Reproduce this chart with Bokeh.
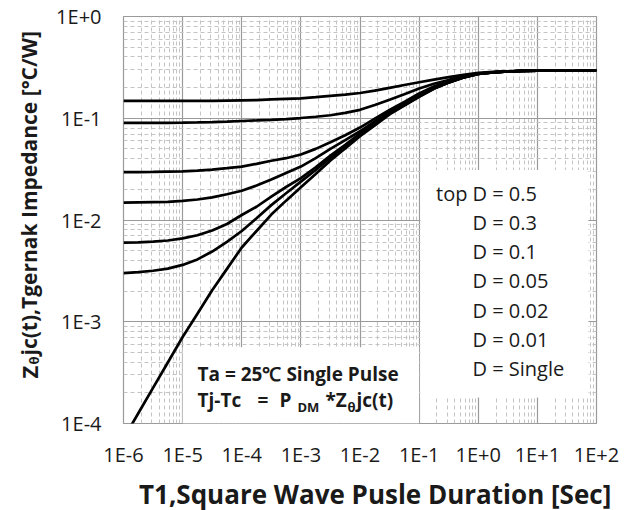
import math
from bokeh.plotting import figure
from bokeh.layouts import row, column
from bokeh.models import Range1d, FixedTicker, CustomJSTickFormatter, BoxAnnotation, Label
from bokeh.embed import file_html
from bokeh.resources import INLINE

# ---------------- data ----------------
t_sec = [1e-6, 1.78e-6, 3.16e-6, 5.62e-6,
         1e-5, 1.78e-5, 3.16e-5, 5.62e-5,
         1e-4, 1.78e-4, 3.16e-4, 5.62e-4,
         1e-3, 1.78e-3, 3.16e-3, 5.62e-3,
         1e-2, 1.78e-2, 3.16e-2, 5.62e-2,
         0.1, 0.178, 0.316, 0.562,
         1.0, 1.78, 3.16, 5.62,
         10.0, 17.8, 31.6, 56.2, 100.0]

zth_d05 = [0.148, 0.148, 0.148, 0.148, 0.148, 0.148, 0.148, 0.149,
           0.150, 0.151, 0.153, 0.155, 0.157, 0.161, 0.166, 0.171,
           0.177, 0.187, 0.199, 0.212, 0.226, 0.240, 0.254, 0.267,
           0.279, 0.285, 0.289, 0.292, 0.293, 0.294, 0.294, 0.295, 0.295]
zth_d03 = [0.0900, 0.0900, 0.0900, 0.0902, 0.0905, 0.0910, 0.0917, 0.0926,
           0.0940, 0.0952, 0.0965, 0.0982, 0.1005, 0.1035, 0.1070, 0.1130,
           0.1210, 0.1350, 0.1520, 0.1720, 0.1960, 0.2180, 0.2380, 0.2580,
           0.2750, 0.2830, 0.2880, 0.2920, 0.2930, 0.2940, 0.2940, 0.2950, 0.2950]
zth_d01 = [0.0296, 0.0296, 0.0297, 0.0299, 0.0301, 0.0306, 0.0313, 0.0323,
           0.0335, 0.0356, 0.0382, 0.0405, 0.0440, 0.0500, 0.0580, 0.0680,
           0.0810, 0.0990, 0.121, 0.145, 0.175, 0.205, 0.231, 0.255,
           0.274, 0.283, 0.288, 0.292, 0.293, 0.294, 0.294, 0.295, 0.295]
zth_d005 = [0.0148, 0.0149, 0.0150, 0.0151, 0.0154, 0.0159, 0.0167, 0.0179,
            0.0194, 0.0218, 0.0250, 0.0290, 0.0335, 0.0405, 0.0500, 0.0610,
            0.0745, 0.0930, 0.116, 0.139, 0.167, 0.199, 0.227, 0.253,
            0.273, 0.282, 0.288, 0.292, 0.293, 0.294, 0.294, 0.295, 0.295]
zth_d002 = [0.0060, 0.00602, 0.00612, 0.00629, 0.00659, 0.00708, 0.0079, 0.00914,
            0.0112, 0.0135, 0.0170, 0.0211, 0.0258, 0.0330, 0.0430, 0.0548,
            0.0705, 0.0885, 0.112, 0.136, 0.165, 0.197, 0.225, 0.252,
            0.272, 0.282, 0.288, 0.292, 0.293, 0.294, 0.294, 0.295, 0.295]
zth_d001 = [0.0030, 0.00308, 0.00317, 0.00333, 0.00362, 0.00410, 0.00490, 0.00610,
            0.0078, 0.0104, 0.0140, 0.0183, 0.0238, 0.0310, 0.0410, 0.0530,
            0.0690, 0.0870, 0.111, 0.135, 0.163, 0.196, 0.225, 0.252,
            0.272, 0.282, 0.288, 0.292, 0.293, 0.294, 0.294, 0.295, 0.295]
zth_single = [7.1e-5, 1.26e-4, 2.24e-4, 3.98e-4, 7.08e-4, 1.20e-3, 2.04e-3, 3.31e-3,
              5.37e-3, 7.8e-3, 0.0113, 0.0155, 0.0210, 0.0283, 0.0385, 0.0505,
              0.0665, 0.0851, 0.109, 0.133, 0.162, 0.195, 0.224, 0.251,
              0.272, 0.282, 0.288, 0.292, 0.293, 0.294, 0.294, 0.295, 0.295]

series = [zth_d05, zth_d03, zth_d01, zth_d005, zth_d002, zth_d001, zth_single]
duty_labels = ["D = 0.5", "D = 0.3", "D = 0.1", "D = 0.05", "D = 0.02", "D = 0.01", "D = Single"]

x_tick_vals = [1e-6, 1e-5, 1e-4, 1e-3, 1e-2, 1e-1, 1e0, 1e1, 1e2]
x_tick_labels = ["1E-6", "1E-5", "1E-4", "1E-3", "1E-2", "1E-1", "1E+0", "1E+1", "1E+2"]
y_tick_vals = [1e-4, 1e-3, 1e-2, 1e-1, 1e0]
y_tick_labels = ["1E-4", "1E-3", "1E-2", "1E-1", "1E+0"]

x_title = "T1,Square Wave  Pusle Duration [Sec]"
note_line1 = "Ta = 25\u2103  Single Pulse"

# ---------------- layout constants (page pixels) ----------------
W, H = 635, 510
LEFT_W = 48          # strip holding the y title
BOT_H = 40           # strip holding the x title
FL, FR, FT, FB = 123, 596, 16, 423   # plot frame on the page
FONT = "Open Sans"
INK = "#1a1a1a"


def blank(width, height):
    f = figure(width=width, height=height, x_range=Range1d(0, 1), y_range=Range1d(0, 1),
               output_backend="svg", toolbar_location=None, min_border=0,
               x_axis_location=None, y_axis_location=None)
    f.outline_line_color = None
    f.grid.visible = False
    f.background_fill_color = "white"
    f.border_fill_color = "white"
    return f


def put(fig, txt, fx, fy, size, bold=False, align="left", angle=0.0):
    fig.add_layout(Label(x=fx, y=fy, x_units="screen", y_units="screen",
                         text=txt, text_font=FONT, text_font_size=f"{size}px",
                         text_font_style="bold" if bold else "normal",
                         text_align=align, text_baseline="middle",
                         angle=angle, text_color=INK))


# ---------------- main plot ----------------
p = figure(frame_width=FR - FL, frame_height=FB - FT,
           x_axis_type="log", y_axis_type="log",
           x_range=Range1d(1e-6, 1e2), y_range=Range1d(1e-4, 1.0),
           output_backend="svg", toolbar_location=None,
           min_border_left=FL - LEFT_W, min_border_right=W - FR,
           min_border_top=FT, min_border_bottom=(H - BOT_H) - FB)
p.background_fill_color = "white"
p.border_fill_color = "white"
p.outline_line_color = "#9a9a9a"
p.outline_line_width = 1.2

x_minor = [m * 10.0 ** k for k in range(-6, 2) for m in range(2, 10)]
y_minor = [m * 10.0 ** k for k in range(-4, 0) for m in range(2, 10)]
p.xaxis.ticker = FixedTicker(ticks=x_tick_vals, minor_ticks=x_minor)
p.yaxis.ticker = FixedTicker(ticks=y_tick_vals, minor_ticks=y_minor)

fmt_code = """
let best = -1; let bd = 1e9;
for (let i = 0; i < vals.length; i++) {
  const d = Math.abs(Math.log10(vals[i]) - Math.log10(tick));
  if (d < bd) { bd = d; best = i; }
}
return (best >= 0 && bd < 1e-6) ? labs[best] : "";
"""
p.xaxis.formatter = CustomJSTickFormatter(args=dict(vals=x_tick_vals, labs=x_tick_labels), code=fmt_code)
p.yaxis.formatter = CustomJSTickFormatter(args=dict(vals=y_tick_vals, labs=y_tick_labels), code=fmt_code)

for ax in (p.xaxis[0], p.yaxis[0]):
    ax.axis_line_color = None
    ax.major_tick_line_color = None
    ax.minor_tick_line_color = None
    ax.major_tick_out = 0
    ax.minor_tick_out = 0
    ax.major_tick_in = 0
    ax.minor_tick_in = 0
    ax.major_label_text_font = FONT
    ax.major_label_text_font_size = "20px"
    ax.major_label_text_color = INK
p.xaxis.major_label_standoff = 17
p.yaxis.major_label_standoff = 22

for g in (p.xgrid[0], p.ygrid[0]):
    g.grid_line_color = "#9a9a9a"
    g.grid_line_width = 1.2
    g.minor_grid_line_color = "#c4c4c4"
    g.minor_grid_line_width = 1
    g.minor_grid_line_dash = "4 3"

for vals in series:
    p.line(t_sec, vals, line_color="black", line_width=2.7)

# white boxes hiding the grid behind the notes
p.add_layout(BoxAnnotation(left=1e-5, right=0.1, bottom=1e-4, top=5.6e-4,
                           fill_color="white", fill_alpha=1.0, line_color=None))
p.add_layout(BoxAnnotation(left=0.105, right=73.0, bottom=1.8e-4, top=0.031,
                           fill_color="white", fill_alpha=1.0, line_color=None))


def put_main(txt, cx, cy, size, bold=False, align="left"):
    put(p, txt, cx - FL, FB - cy, size, bold, align)


# legend text
put_main("top", 467, 193, 20, align="right")
leg_y = [193, 222, 251, 280, 310, 339, 368]
for lab, yy in zip(duty_labels, leg_y):
    put_main(lab, 472, yy, 20)

# bottom-left note
put_main(note_line1, 197, 373, 19, bold=True)
put_main("Tj-Tc", 197, 399, 19, bold=True)
put_main("=", 257, 399, 19, bold=True)
put_main("P", 279, 399, 19, bold=True)
put_main("DM", 297, 406, 13, bold=True)
put_main("*Z", 325, 399, 19, bold=True)
put_main("\u03b8", 347, 406, 13, bold=True)
put_main("jc(t)", 356, 399, 19, bold=True)

# ---------------- title strips ----------------
LH = H - BOT_H
left_fig = blank(LEFT_W, LH)
put(left_fig, "Z", 28, LH - 425, 22, bold=True, angle=math.pi / 2)
put(left_fig, "\u03b8", 33, LH - 411, 13, bold=True, angle=math.pi / 2)
put(left_fig, "jc(t),Tgernak Impedance [\u00b0C/W]", 28, LH - 402, 21, bold=True, angle=math.pi / 2)

bottom_fig = blank(W, BOT_H)
put(bottom_fig, x_title, 378, H - 493, 26, bold=True, align="center")

layout = column(row(left_fig, p, spacing=0), bottom_fig, spacing=0)

open("out.html", "w").write(file_html(layout, INLINE))
